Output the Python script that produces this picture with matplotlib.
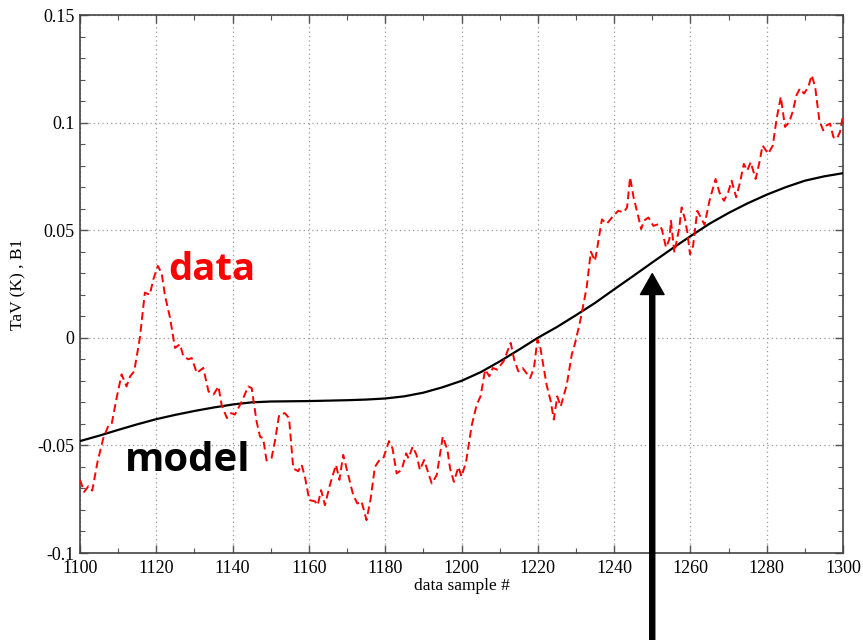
import matplotlib
matplotlib.use("Agg")
import matplotlib.pyplot as plt
from matplotlib.ticker import MultipleLocator

# ---- data ----
data_x = [1100.0, 1101.1, 1102.2, 1103.2, 1104.6, 1106.1, 1107.4, 1108.3, 1109.6, 1110.9,
          1112.2, 1113.1, 1114.2, 1115.7, 1117.0, 1118.3, 1119.2, 1120.4, 1121.4, 1122.3,
          1123.6, 1124.9, 1126.2, 1127.1, 1128.4, 1129.3, 1130.6, 1132.3, 1133.7, 1135.0,
          1136.3, 1137.1, 1138.5, 1139.6, 1140.6, 1142.4, 1144.1, 1145.0, 1146.3, 1147.2,
          1148.0, 1148.9, 1150.2, 1151.1, 1152.2, 1153.7, 1154.8, 1155.9, 1157.2, 1158.1,
          1159.0, 1160.1, 1161.6, 1162.3, 1163.2, 1164.2, 1165.5, 1167.1, 1168.0, 1169.0,
          1170.3, 1171.6, 1172.7, 1173.8, 1175.1, 1176.2, 1177.3, 1178.5, 1179.5, 1181.0,
          1181.9, 1183.0, 1184.3, 1185.5, 1186.1, 1187.2, 1188.2, 1189.1, 1190.2, 1192.2,
          1193.5, 1195.1, 1196.3, 1197.0, 1198.0, 1199.2, 1200.0, 1201.2, 1202.7, 1204.0,
          1205.0, 1206.2, 1207.3, 1208.2, 1209.3, 1211.0, 1212.9, 1213.8, 1214.9, 1216.0,
          1218.0, 1219.0, 1219.9, 1220.6, 1222.3, 1223.4, 1224.2, 1225.1, 1226.0, 1227.6,
          1228.9, 1229.7, 1231.1, 1232.8, 1233.9, 1235.0, 1235.6, 1236.8, 1238.1, 1239.8,
          1241.1, 1242.5, 1243.4, 1244.2, 1245.1, 1246.4, 1247.1, 1247.8, 1249.0, 1250.3,
          1251.6, 1252.5, 1253.6, 1254.5, 1254.9, 1255.8, 1256.4, 1257.1, 1257.7, 1258.6,
          1259.2, 1259.9, 1260.7, 1261.8, 1262.5, 1263.7, 1265.0, 1266.6, 1267.6, 1268.8,
          1269.9, 1270.8, 1272.0, 1273.0, 1274.0, 1274.9, 1275.8, 1277.1, 1278.2, 1278.9,
          1280.4, 1281.6, 1282.6, 1283.7, 1284.8, 1285.9, 1286.8, 1287.8, 1288.7, 1289.8,
          1290.9, 1291.8, 1292.7, 1293.8, 1294.8, 1295.7, 1296.6, 1297.5, 1298.4, 1299.2,
          1300.0]
data_y = [-0.066, -0.0716, -0.069, -0.071, -0.0576, -0.0467, -0.041, -0.040, -0.028, -0.017,
          -0.0226, -0.018, -0.0156, 0.000, 0.021, 0.020, 0.027, 0.0334, 0.030, 0.0194,
          0.0093, -0.0047, -0.003, -0.0086, -0.010, -0.0094, -0.0164, -0.014, -0.025, -0.0264,
          -0.0226, -0.031, -0.0373, -0.035, -0.0357, -0.0296, -0.0226, -0.0234, -0.039, -0.046,
          -0.0467, -0.057, -0.056, -0.048, -0.0358, -0.035, -0.0373, -0.0607, -0.062, -0.059,
          -0.065, -0.0754, -0.076, -0.0778, -0.0708, -0.0778, -0.0684, -0.059, -0.066, -0.0544,
          -0.0638, -0.073, -0.077, -0.076, -0.0847, -0.0747, -0.060, -0.0568, -0.056, -0.048,
          -0.0513, -0.063, -0.0614, -0.0537, -0.056, -0.0506, -0.0544, -0.0614, -0.0568, -0.0677,
          -0.0638, -0.0459, -0.052, -0.0607, -0.0669, -0.060, -0.0645, -0.0576, -0.0405, -0.031,
          -0.0272, -0.0148, -0.0179, -0.014, -0.0148, -0.011, -0.0024, -0.0101, -0.0156, -0.014,
          -0.0187, -0.014, -0.0008, -0.0039, -0.0218, -0.0296, -0.038, -0.0272, -0.0319, -0.0218,
          -0.0078, -0.003, 0.0077, 0.0233, 0.040, 0.0357, 0.042, 0.055, 0.053, 0.0567,
          0.059, 0.0583, 0.0606, 0.0746, 0.0653, 0.0559, 0.0505, 0.0544, 0.0559, 0.052,
          0.0528, 0.0505, 0.042, 0.0458, 0.0544, 0.0396, 0.045, 0.0513, 0.0606, 0.055,
          0.049, 0.0388, 0.0427, 0.059, 0.0567, 0.0525, 0.0637, 0.0738, 0.0676, 0.0637,
          0.0676, 0.073, 0.0653, 0.0722, 0.0808, 0.0777, 0.0816, 0.0738, 0.0824, 0.0894,
          0.0855, 0.0894, 0.1018, 0.112, 0.098, 0.1002, 0.105, 0.1127, 0.1158, 0.1135,
          0.1166, 0.122, 0.1166, 0.101, 0.0964, 0.0987, 0.0995, 0.0932, 0.0925, 0.0956,
          0.1033]

model_x = [1100, 1105, 1110, 1115, 1120, 1125, 1130, 1135, 1140, 1145, 1150, 1155, 1160,
           1165, 1170, 1175, 1180, 1185, 1190, 1195, 1200, 1205, 1210, 1215, 1220, 1225,
           1230, 1235, 1240, 1245, 1250, 1255, 1260, 1265, 1270, 1275, 1280, 1285, 1290,
           1295, 1300]
model_y = [-0.048, -0.0455, -0.0428, -0.0402, -0.0378, -0.0358, -0.0340, -0.0324, -0.0310,
           -0.0300, -0.0296, -0.0295, -0.0294, -0.0292, -0.0290, -0.0287, -0.0282, -0.0272,
           -0.0255, -0.0230, -0.0200, -0.0160, -0.0110, -0.0056, 0.0000, 0.0050, 0.0105,
           0.0162, 0.0225, 0.0287, 0.0350, 0.0412, 0.0472, 0.0530, 0.0580, 0.0625, 0.0665,
           0.0700, 0.0730, 0.0750, 0.0765]

x_ticks = [1100, 1120, 1140, 1160, 1180, 1200, 1220, 1240, 1260, 1280, 1300]
y_ticks = [-0.1, -0.05, 0, 0.05, 0.1, 0.15]
y_tick_labels = ["-0.1", "-0.05", "0", "0.05", "0.1", "0.15"]
arrow_x = 1250
arrow_tip_y = 0.0298

# ---- figure ----
fig = plt.figure(figsize=(8.63, 6.40), dpi=100)
ax = fig.add_axes([80 / 863, 1 - 553 / 640, 763 / 863, 538 / 640])

ax.plot(model_x, model_y, color="black", lw=1.6, zorder=3)
ax.plot(data_x, data_y, color="red", lw=1.4, linestyle=(0, (4, 2.2)), zorder=4)

ax.set_xlim(1100, 1300)
ax.set_ylim(-0.1, 0.15)
ax.set_xticks(x_ticks)
ax.set_xticklabels([str(v) for v in x_ticks])
ax.set_yticks(y_ticks)
ax.set_yticklabels(y_tick_labels)
ax.xaxis.set_minor_locator(MultipleLocator(10))
ax.yaxis.set_minor_locator(MultipleLocator(0.01))

serif = "Liberation Serif"
for lab in ax.get_xticklabels() + ax.get_yticklabels():
    lab.set_fontfamily(serif)
    lab.set_fontsize(13)

ax.tick_params(which="both", direction="in", top=True, right=True, color="#555555")
ax.tick_params(which="major", length=6, width=1, pad=4)
ax.tick_params(which="minor", length=3.5, width=0.8)
ax.tick_params(axis="x", which="major", pad=5)
for sp in ax.spines.values():
    sp.set_color("#444444")
    sp.set_linewidth(1.2)

ax.grid(True, which="major", color="#999999", linestyle=(0, (1, 2.5)), linewidth=0.9)

ax.set_xlabel("data sample #", fontfamily=serif, fontsize=12.5, labelpad=0.5)
ax.set_ylabel("TaV (K) , B1", fontfamily=serif, fontsize=12.5, labelpad=8)

# annotations
fig.text(168 / 863, 1 - 280 / 640, "data", color="red", fontfamily="Open Sans",
         fontweight="bold", fontsize=27.5, ha="left", va="baseline")
fig.text(125 / 863, 1 - 471 / 640, "model", color="black", fontfamily="Open Sans",
         fontweight="bold", fontsize=29, ha="left", va="baseline")

ax.annotate("", xy=(arrow_x, arrow_tip_y), xycoords="data",
            xytext=(arrow_x, 0.0), textcoords=("data", "figure fraction"),
            arrowprops=dict(width=3.6, headwidth=17, headlength=15,
                            facecolor="black", edgecolor="black", shrink=0.0),
            annotation_clip=False, zorder=6)

fig.savefig("out.png", dpi=100)
